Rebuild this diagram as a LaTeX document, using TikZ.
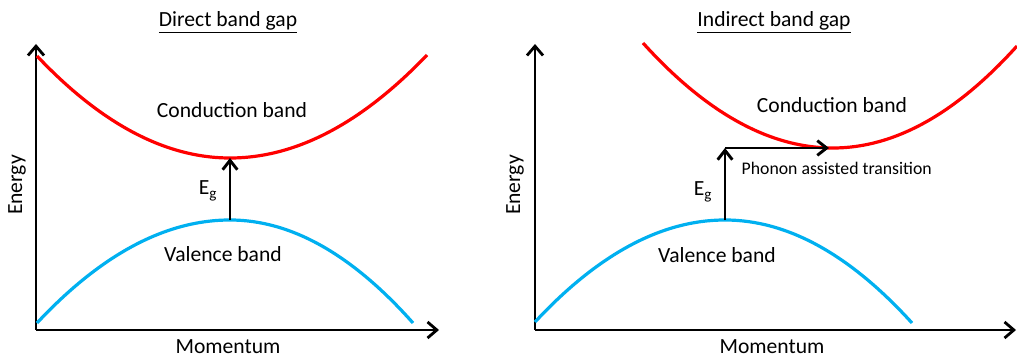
\documentclass[tikz,border=0pt]{standalone}
\usepackage{fontspec}
\setmainfont{Carlito}
\usetikzlibrary{arrows.meta}
\definecolor{bandred}{HTML}{FF0000}
\definecolor{bandblue}{HTML}{00B0F0}

\begin{document}
\begin{tikzpicture}[x=0.75pt,y=-0.75pt,
  axis/.style={line width=2.1pt,-{Straight Barb[length=7pt,width=12pt]}},
  gap/.style={line width=2.2pt,-{Straight Barb[length=7pt,width=11pt]}},
  cband/.style={line width=2.4pt,bandred},
  vband/.style={line width=2.4pt,bandblue},
  lbl/.style={font=\fontsize{16.2}{19}\selectfont},
  note/.style={font=\fontsize{13.3}{16}\selectfont}]
  \useasboundingbox (0,0) rectangle (1017,359);

  % direct gap
  \coordinate (O1)  at (36,330);
  \coordinate (Y1)  at (36,44);
  \coordinate (X1)  at (439,330);
  \coordinate (CL1) at (37,56);
  \coordinate (CM1) at (230,158);
  \coordinate (CR1) at (427,55);
  \coordinate (VL1) at (37,323);
  \coordinate (VM1) at (230,220);
  \coordinate (VR1) at (413,323);

  \draw[axis] (O1) -- (Y1);
  \draw[axis] (O1) -- (X1);
  \draw[cband] (CL1) .. controls (101.3,124) and (165.7,158) .. (CM1)
               .. controls (295.7,158) and (361.3,123.7) .. (CR1);
  \draw[vband] (VL1) .. controls (101.3,254.3) and (165.7,220) .. (VM1)
               .. controls (291,220) and (352,254.3) .. (VR1);
  \draw[gap] (VM1) -- (CM1);

  \node[lbl] (title1) at (228,22)  {\underline{Direct band gap}};
  \node[lbl] (cb1)    at (232,110) {Conduction band};
  \node[lbl] (vb1)    at (223,254) {Valence band};
  \node[lbl] (eg1)    at (208,191) {E\textsubscript{g}};
  \node[lbl,rotate=90] (en1) at (17,185) {Energy};
  \node[lbl] (mom1)   at (228,347) {Momentum};

  % indirect gap
  \coordinate (O2)  at (535,330);
  \coordinate (Y2)  at (535,44);
  \coordinate (X2)  at (1016,330);
  \coordinate (CL2) at (643,43);
  \coordinate (CM2) at (833,148);
  \coordinate (CR2) at (1017,46);
  \coordinate (VL2) at (535,322);
  \coordinate (VM2) at (725,220);
  \coordinate (VR2) at (912,323);
  \coordinate (K2)  at (725,148);
  \coordinate (T2)  at (829,148);

  \draw[axis] (O2) -- (Y2);
  \draw[axis] (O2) -- (X2);
  \draw[cband] (CL2) .. controls (706.3,113) and (769.7,148) .. (CM2)
               .. controls (894.3,148) and (955.7,114) .. (CR2);
  \draw[vband] (VL2) .. controls (598.3,254) and (661.7,220) .. (VM2)
               .. controls (787.3,220) and (849.7,254.3) .. (VR2);
  \draw[gap] (VM2) -- (K2);
  \draw[gap] (K2) -- (T2);

  \node[lbl] (title2) at (774,22)  {\underline{Indirect band gap}};
  \node[lbl] (cb2)    at (832,105) {Conduction band};
  \node[lbl] (vb2)    at (717,255) {Valence band};
  \node[lbl] (eg2)    at (703,192) {E\textsubscript{g}};
  \node[note,anchor=west] (ph2) at (737,168) {Phonon assisted transition};
  \node[lbl,rotate=90] (en2) at (515,185) {Energy};
  \node[lbl] (mom2)   at (772,347) {Momentum};
\end{tikzpicture}
\end{document}
